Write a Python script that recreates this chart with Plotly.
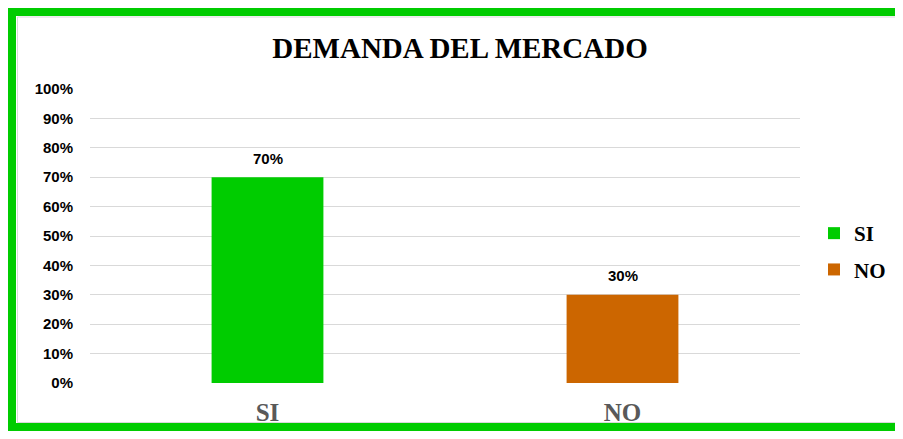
import plotly.graph_objects as go

categories = ["SI", "NO"]
values = [0.70, 0.30]
colors = ["#00CC00", "#CC6600"]
tick_vals = [0, 0.1, 0.2, 0.3, 0.4, 0.5, 0.6, 0.7, 0.8, 0.9, 1.0]
tick_text = ["0%", "10%", "20%", "30%", "40%", "50%", "60%", "70%", "80%", "90%", "100%"]

W, H = 887, 423
L, R, T, B = 82, 95, 81, 48
pw, ph = W - L - R, H - T - B

def px_x(p):
    return (p - L) / pw

def px_y(p):
    return (H - B - p) / ph

fig = go.Figure()
for c, v, col in zip(categories, values, colors):
    fig.add_trace(go.Bar(x=[c], y=[v], name=c, legendgroup=c,
                         marker=dict(color=col, line=dict(width=0)), showlegend=True))

annotations = []
for c, v in zip(categories, values):
    annotations.append(dict(x=c, y=v, xref="x", yref="y", text=f"{round(v*100)}%",
                            showarrow=False, yshift=19, yanchor="middle",
                            font=dict(family="Liberation Sans", size=15, color="#000000", weight="bold")))

def hline(y, x0, x1, color, width, layer):
    return dict(type="line", xref="paper", yref="paper", x0=px_x(x0), x1=px_x(x1),
                y0=px_y(y), y1=px_y(y), line=dict(color=color, width=width), layer=layer)

def vline(x, y0, y1, color, width, layer):
    return dict(type="line", xref="paper", yref="paper", x0=px_x(x), x1=px_x(x),
                y0=px_y(y0), y1=px_y(y1), line=dict(color=color, width=width), layer=layer)

shapes = [
    # thin grey inner frame
    hline(9, 9.5, W, "#D9D9D9", 1, "below"),
    hline(414.5, 9.5, W, "#D9D9D9", 1, "below"),
    vline(9.5, 9, 414.5, "#D9D9D9", 1, "below"),
    # green outer frame (open on the right, as in the original)
    hline(4, 0, W, "#00CC00", 8, "above"),
    hline(419, 0, W, "#00CC00", 8, "above"),
    vline(4, 0, H, "#00CC00", 8, "above"),
]

fig.update_layout(
    width=W, height=H,
    margin=dict(l=L, r=R, t=T, b=B, autoexpand=False),
    paper_bgcolor="white", plot_bgcolor="white",
    barmode="relative", bargap=0.685,
    title=dict(text="DEMANDA DEL MERCADO", x=452 / W, xanchor="center", xref="container",
               y=1 - 40 / H, yanchor="middle", yref="container",
               font=dict(family="Liberation Serif", size=29, color="#000000", weight="bold")),
    xaxis=dict(showgrid=False, showline=False, zeroline=False, ticks="",
               tickfont=dict(family="Liberation Serif", size=25, color="#595959", weight="bold"),
               ticklabelstandoff=12),
    yaxis=dict(range=[0, 1.0], tickvals=tick_vals, ticktext=tick_text,
               showgrid=True, gridcolor="#D9D9D9", gridwidth=1.3, zeroline=False, showline=False,
               ticks="", ticklabelstandoff=16,
               tickfont=dict(family="Liberation Sans", size=15, color="#000000", weight="bold")),
    legend=dict(x=806 / W, xanchor="left", xref="container",
                y=1 - 205 / H, yanchor="top", yref="container",
                font=dict(family="Liberation Serif", size=21, color="#000000", weight="bold"),
                itemwidth=30, tracegroupgap=6, bgcolor="rgba(0,0,0,0)"),
    annotations=annotations,
    shapes=shapes,
)

fig.write_html("out.html")
